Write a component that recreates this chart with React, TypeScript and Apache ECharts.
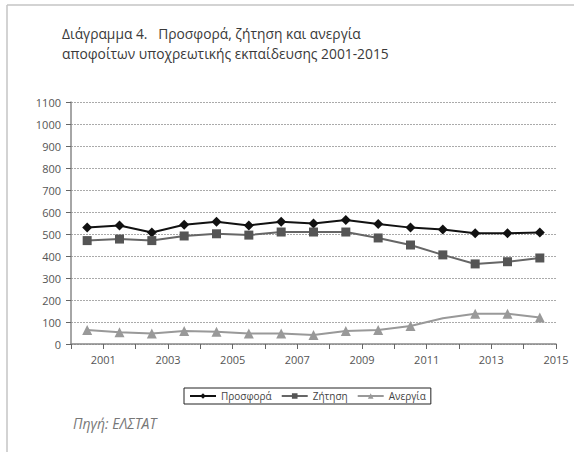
import React, { useEffect, useRef } from "react";
import * as echarts from "echarts";

const years = ["2001","2002","2003","2004","2005","2006","2007","2008","2009","2010","2011","2012","2013","2014","2015"];
const prosfora = [529, 539, 507, 542, 556, 539, 556, 548, 564, 545, 529, 520, 503, 503, 507];
const zitisi = [470, 477, 470, 491, 501, 495, 509, 509, 509, 482, 450, 405, 364, 374, 391];
const anergia = [64, 53, 48, 59, 56, 48, 48, 41, 59, 64, 82, 117, 138, 138, 120];
const anergiaNoMarker = [11]; // index with no marker shown
const seriesNames = ["Προσφορά", "Ζήτηση", "Ανεργία"];
const yTicks = { min: 0, max: 1100, interval: 100 };
const titleLines = ["Διάγραμμα 4.   Προσφορά, ζήτηση και ανεργία", "αποφοίτων υποχρεωτικής εκπαίδευσης 2001-2015"];
const sourceText = "Πηγή: ΕΛΣΤΑΤ";

const FONT = "'Open Sans', 'Noto Sans', sans-serif";

export default function App() {
  const ref = useRef<HTMLDivElement>(null);
  useEffect(() => {
    if (!ref.current) return;
    const chart = echarts.init(ref.current, undefined, { renderer: "svg" });
    const gridLeft = 71, gridRight = 18, gridTop = 102, gridBottom = 108;
    chart.setOption({
      animation: false,
      backgroundColor: "#ffffff",
      textStyle: { fontFamily: FONT },
      grid: { left: gridLeft, right: gridRight, top: gridTop, bottom: gridBottom, containLabel: false },
      xAxis: [
        {
          type: "category",
          data: years,
          boundaryGap: true,
          position: "bottom",
          axisLine: { show: true, lineStyle: { color: "#888", width: 1.5 } },
          axisTick: { show: false },
          axisLabel: { show: false },
          splitLine: { show: false },
        },
        {
          type: "value",
          min: 0,
          max: years.length,
          interval: 1,
          position: "bottom",
          axisLine: { show: false },
          axisTick: { show: true, length: 5, lineStyle: { color: "#666", width: 1 } },
          axisLabel: {
            show: true,
            margin: 10,
            color: "#555",
            fontSize: 11,
            fontFamily: FONT,
            formatter: (v: number) => (v % 2 === 1 ? years[v - 1] : ""),
          },
          splitLine: { show: false },
        },
      ],
      yAxis: {
        type: "value",
        min: yTicks.min,
        max: yTicks.max,
        interval: yTicks.interval,
        axisLine: { show: true, lineStyle: { color: "#888", width: 1.5 } },
        axisTick: { show: true, length: 5, lineStyle: { color: "#666" } },
        axisLabel: { color: "#555", fontSize: 11, margin: 10, fontFamily: FONT, formatter: (v: number) => String(v) },
        splitLine: { show: true, lineStyle: { color: "#aaa", type: [2, 1], width: 1 } },
      },
      legend: {
        left: 184,
        top: 388,
        orient: "horizontal",
        borderColor: "#222",
        borderWidth: 1,
        padding: [3, 5, 3, 5],
        itemWidth: 26,
        itemHeight: 7,
        itemGap: 9,
        textStyle: { color: "#444", fontSize: 10, fontFamily: FONT },
        data: seriesNames,
      },
      series: [
        {
          name: seriesNames[0],
          type: "line",
          xAxisIndex: 0,
          data: prosfora,
          symbol: "diamond",
          symbolSize: 10,
          lineStyle: { color: "#111", width: 2 },
          itemStyle: { color: "#111" },
        },
        {
          name: seriesNames[1],
          type: "line",
          xAxisIndex: 0,
          data: zitisi,
          symbol: "rect",
          symbolSize: 9,
          lineStyle: { color: "#666", width: 2 },
          itemStyle: { color: "#555" },
        },
        {
          name: seriesNames[2],
          type: "line",
          xAxisIndex: 0,
          data: anergia.map((v, i) => (anergiaNoMarker.includes(i) ? { value: v, symbol: "none" } : v)),
          symbol: "triangle",
          symbolSize: 10,
          lineStyle: { color: "#999", width: 2 },
          itemStyle: { color: "#999" },
        },
      ],
      graphic: [
        { type: "line", shape: { x1: 7, y1: 5, x2: 574, y2: 5 }, style: { stroke: "#c4c4c4", lineWidth: 1.5 } },
        { type: "line", shape: { x1: 7, y1: 5, x2: 7, y2: 452 }, style: { stroke: "#c4c4c4", lineWidth: 1.5 } },
        {
          type: "text",
          left: 62,
          top: 26,
          style: { text: titleLines[0], fill: "#3a3a3a", font: `13.8px ${FONT}` },
        },
        {
          type: "text",
          left: 62,
          top: 46,
          style: { text: titleLines[1], fill: "#3a3a3a", font: `13.8px ${FONT}` },
        },
        {
          type: "text",
          left: 73,
          top: 416,
          style: { text: sourceText, fill: "#777", font: `italic 14px ${FONT}` },
        },
      ],
    });
    return () => chart.dispose();
  }, []);
  return <div ref={ref} style={{ position: "fixed", left: 0, top: 0, width: 574, height: 452 }} />;
}
